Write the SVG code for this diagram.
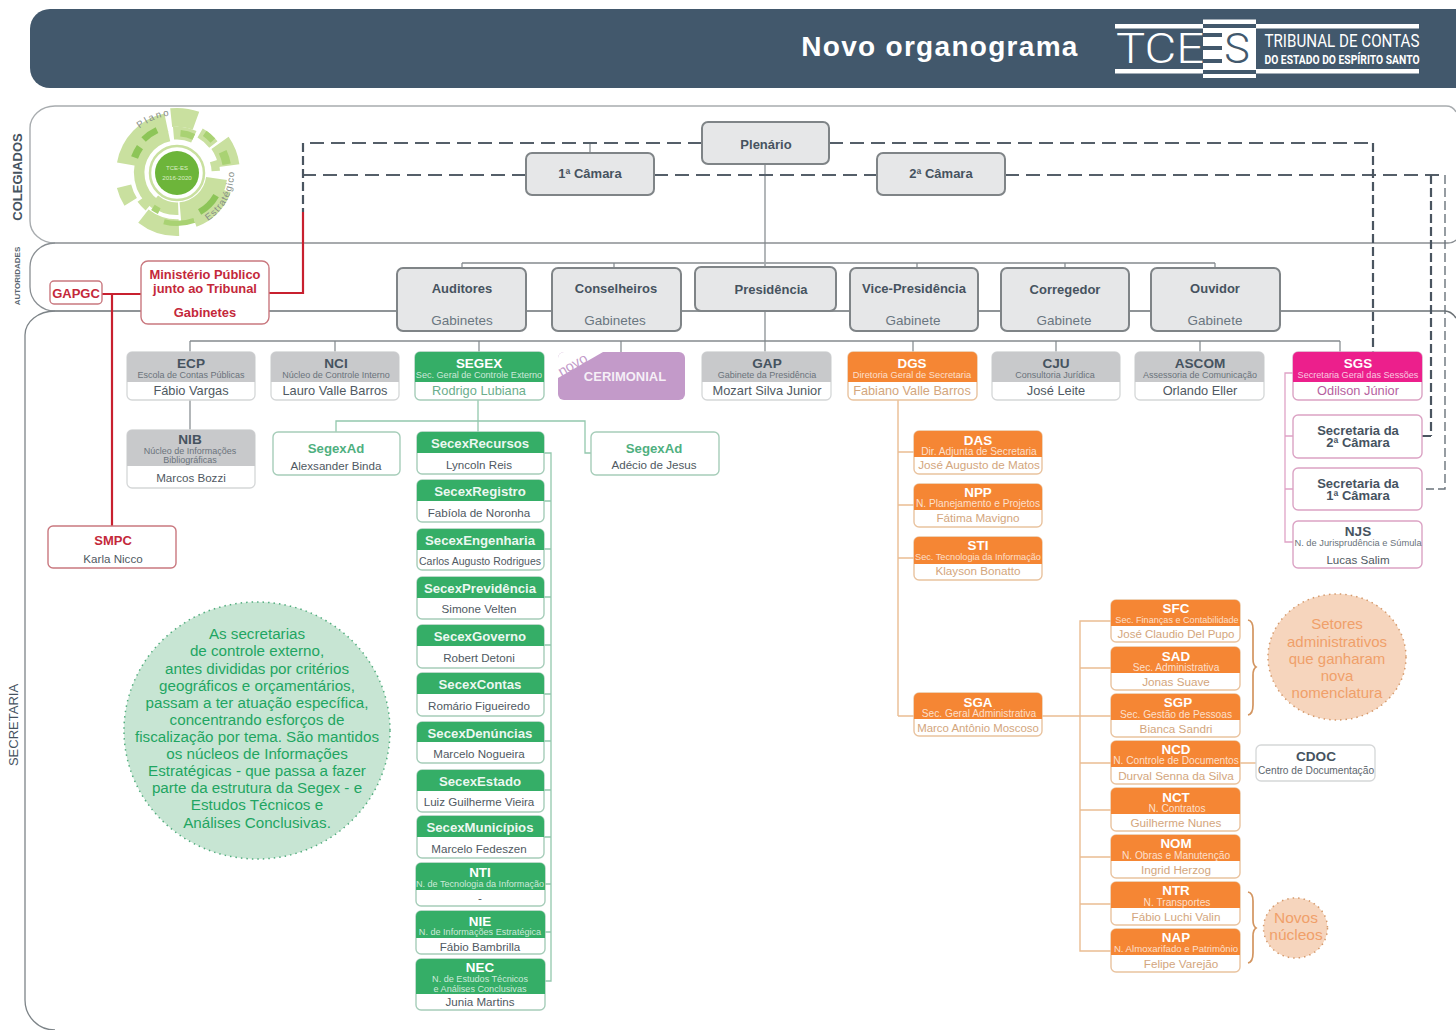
<svg xmlns="http://www.w3.org/2000/svg" width="1456" height="1030" viewBox="0 0 1456 1030">
<style>
text{font-family:"Liberation Sans",Arial,sans-serif;text-anchor:middle}
.box{fill:#e6e7e8;stroke:#7f8487;stroke-width:2}
.t1{font-size:13px;font-weight:700;fill:#46535f}
.t2{font-size:13.5px;fill:#6a7680}
.grayh{fill:#c8c9cb}.grn{fill:#35ae67}.org{fill:#f58634}.pnk{fill:#ec1f8c}
.card{fill:#fff;stroke:#d5d7d8;stroke-width:1.3}
.cg{fill:#fff;stroke:#a6cdb9;stroke-width:1.4}
.co{fill:#fff;stroke:#e9c39f;stroke-width:1.4}
.cp{fill:#fff;stroke:#dba3c4;stroke-width:1.4}
.cr{fill:#fff;stroke:#c9787f;stroke-width:1.4}
.h{font-size:13.4px;font-weight:700;fill:#fff}
.hs{font-size:13.2px;font-weight:700;fill:#fff;fill-opacity:.92}
.hg{font-size:13.6px;font-weight:700;fill:#46535f}
.s{font-size:9.1px;fill:#fff;fill-opacity:.75}
.s2{font-size:10.2px;fill:#fff;fill-opacity:.75}
.sg{font-size:9px;fill:#6a737b}
.sg2{font-size:10.2px;fill:#5d666e}
.n{font-size:11.6px;fill:#4f5962}
.nb{font-size:12.8px;fill:#4f5962}
.no{font-size:11.7px;fill:#d3a67d}
.ng{font-size:12.8px;fill:#6bae8c}
.np{font-size:12.8px;fill:#b65fa0}
.ln{fill:none;stroke:#80878b;stroke-width:1.2}
.ln2{fill:none;stroke:#a3a7aa;stroke-width:2}
.lg{fill:none;stroke:#93c8ad;stroke-width:1.3}
.lo{fill:none;stroke:#eabd92;stroke-width:1.4}
.lp{fill:none;stroke:#dfa3c6;stroke-width:1.3}
.lr{fill:none;stroke:#c8202f;stroke-width:2.2}
.ld{fill:none;stroke:#555f69;stroke-width:2;stroke-dasharray:14 7}
.ldv{fill:none;stroke:#4a5560;stroke-width:2.2;stroke-dasharray:9 4}
.ldt{fill:none;stroke:#6a737b;stroke-width:1.4;stroke-dasharray:9 4}
.red{font-weight:700;fill:#c4283a}
.big{fill:#f0a06a}
.a{fill:none;stroke:#c9e09f}
.b{fill:none;stroke:#a9d273}
.c{fill:none;stroke:#8dc558}
</style>

<g id="header">
<path d="M1456 9H50a20 20 0 0 0-20 20V68a20 20 0 0 0 20 20H1456Z" fill="#42586c"/>
<text x="940" y="56" font-size="28" font-weight="700" fill="#fff" letter-spacing="1.3">Novo organograma</text>
<rect x="1115" y="24" width="88" height="4.5" fill="#fff"/><rect x="1115" y="69" width="88" height="4.5" fill="#fff"/>
<rect x="1256" y="24" width="163" height="4.5" fill="#fff"/><rect x="1256" y="69" width="163" height="4.5" fill="#fff"/>
<rect x="1203" y="19.500" width="53" height="58.500" fill="#fff"/>
<g fill="#42586c"><rect x="1203" y="24" width="53" height="4"/><rect x="1203" y="70" width="53" height="4"/><rect x="1203" y="33" width="19" height="4"/><rect x="1203" y="46" width="19" height="4"/><rect x="1203" y="59" width="19" height="4"/></g>
<text x="1160" y="63" style="font-family:Roboto,'Liberation Sans',sans-serif" font-size="42" font-weight="300" fill="#fff" textLength="88" lengthAdjust="spacingAndGlyphs">TCE</text>
<text x="1237" y="63" style="font-family:Roboto,'Liberation Sans',sans-serif" font-size="43" font-weight="300" fill="#42586c">S</text>
<text x="1342" y="47" style="font-family:Roboto,'Liberation Sans',sans-serif" font-size="19" fill="#fff" textLength="155" lengthAdjust="spacingAndGlyphs">TRIBUNAL DE CONTAS</text>
<text x="1342" y="64" style="font-family:Roboto,'Liberation Sans',sans-serif" font-size="12" font-weight="700" fill="#fff" textLength="155" lengthAdjust="spacingAndGlyphs">DO ESTADO DO ESPÍRITO SANTO</text>
</g>

<g id="bands">
<path fill="none" stroke="#a8acaf" stroke-width="1.4" d="M1456 112q-3-6-10-6H55a25 22 0 0 0-25 22V221a25 22 0 0 0 25 22"/>
<path fill="none" stroke="#8a8f93" stroke-width="1.3" d="M55 243H1448q5 0 8-3M55 243a25 24 0 0 0-25 24V287a25 24 0 0 0 25 24"/>
<path fill="none" stroke="#6b7175" stroke-width="1.6" d="M55 311H1445q6 0 11 7"/>
<path fill="none" stroke="#7d8488" stroke-width="1.3" d="M55 311a30 24 0 0 0-30 24V1000a30 30 0 0 0 30 30"/>
<text transform="translate(22 177) rotate(-90)" font-size="13" font-weight="700" fill="#46535f">COLEGIADOS</text>
<text transform="translate(20 276) rotate(-90)" font-size="8" font-weight="700" fill="#5a6670">AUTORIDADES</text>
<text transform="translate(18 725) rotate(-90)" font-size="13" fill="#46535f">SECRETARIA</text>
</g>

<g id="plano-estrategico">
<g transform="translate(177 173) scale(1.05) translate(-177 -173)">
<circle class="a" cx="177" cy="173" r="49" stroke-width="18" pathLength="360" stroke-dasharray="68 360" transform="rotate(190 177 173)"/>
<circle class="a" cx="177" cy="173" r="36" stroke-width="10" pathLength="360" stroke-dasharray="133 360" transform="rotate(125 177 173)"/>
<circle class="a" cx="177" cy="173" r="53" stroke-width="18" pathLength="360" stroke-dasharray="26 360" transform="rotate(264 177 173)"/>
<circle class="a" cx="177" cy="173" r="38" stroke-width="12" pathLength="360" stroke-dasharray="30 360" transform="rotate(265 177 173)"/>
<circle class="a" cx="177" cy="173" r="44" stroke-width="10" pathLength="360" stroke-dasharray="22 360" transform="rotate(300 177 173)"/>
<circle class="a" cx="177" cy="173" r="50" stroke-width="20" pathLength="360" stroke-dasharray="27 360" transform="rotate(325 177 173)"/>
<circle class="a" cx="177" cy="173" r="37" stroke-width="8" pathLength="360" stroke-dasharray="15 360" transform="rotate(342 177 173)"/>
<circle class="a" cx="177" cy="173" r="38" stroke-width="20" pathLength="360" stroke-dasharray="77 360" transform="rotate(8 177 173)"/>
<circle class="a" cx="177" cy="173" r="50" stroke-width="9" pathLength="360" stroke-dasharray="50 360" transform="rotate(20 177 173)"/>
<circle class="a" cx="177" cy="173" r="52" stroke-width="16" pathLength="360" stroke-dasharray="40 360" transform="rotate(88 177 173)"/>
<circle class="a" cx="177" cy="173" r="34" stroke-width="12" pathLength="360" stroke-dasharray="42 360" transform="rotate(88 177 173)"/>
<circle class="a" cx="177" cy="173" r="52" stroke-width="14" pathLength="360" stroke-dasharray="18 360" transform="rotate(148 177 173)"/>
<circle class="a" cx="177" cy="173" r="42" stroke-width="9" pathLength="360" stroke-dasharray="14 360" transform="rotate(130 177 173)"/>
<circle class="c" cx="177" cy="173" r="43" stroke-width="7" pathLength="360" stroke-dasharray="15 360" transform="rotate(200 177 173)"/>
<circle class="c" cx="177" cy="173" r="45" stroke-width="6" pathLength="360" stroke-dasharray="20 360" transform="rotate(225 177 173)"/>
<circle class="b" cx="177" cy="173" r="38" stroke-width="6" pathLength="360" stroke-dasharray="20 360" transform="rotate(275 177 173)"/>
<circle class="b" cx="177" cy="173" r="46" stroke-width="6" pathLength="360" stroke-dasharray="13 360" transform="rotate(305 177 173)"/>
<circle class="b" cx="177" cy="173" r="48" stroke-width="8" pathLength="360" stroke-dasharray="15 360" transform="rotate(335 177 173)"/>
<circle class="c" cx="177" cy="173" r="43" stroke-width="6" pathLength="360" stroke-dasharray="30 360" transform="rotate(30 177 173)"/>
<circle class="b" cx="177" cy="173" r="48" stroke-width="5" pathLength="360" stroke-dasharray="35 360" transform="rotate(70 177 173)"/>
<circle class="b" cx="177" cy="173" r="40" stroke-width="6" pathLength="360" stroke-dasharray="10 360" transform="rotate(115 177 173)"/>
</g>
<circle cx="177" cy="173" r="27.500" fill="#fff"/>
<circle cx="177" cy="173" r="27" fill="none" stroke="#c9e09f" stroke-width="2.500"/>
<circle cx="177" cy="173" r="22" fill="#6db53a"/>
<text x="177" y="170" font-size="6" fill="#dcedc6">TCE-ES</text>
<text x="177" y="180" font-size="6.200" fill="#dcedc6">2016-2020</text>
<path id="pp" d="M139.700 128.600A58 58 0 0 1 182 115.200" fill="none"/>
<text font-size="9.500" fill="#858c85" letter-spacing="2" style="text-anchor:start"><textPath href="#pp">Plano</textPath></text>
<path id="pe" d="M208 220.800A57 57 0 0 0 233.400 165" fill="none"/>
<text font-size="9.500" fill="#858c85" letter-spacing="1" style="text-anchor:start"><textPath href="#pe">Estratégico</textPath></text>
</g>

<g id="connectors">
<path class="ln" d="M765 164V267M590 143V153M190 400V430"/>
<path class="ln2" d="M462 263H1215M190 341H1340"/>
<path class="ln" d="M462 263V268M614 263V268M917 263V268M1065 263V268M1215 263V268M190 341V352M335 341V352M479 341V352M621 341V352M765 311V352M913 341V352M1056 341V352M1200 341V352M1340 341V352"/>
<path class="ld" d="M702 143H303M526 175H303M829 143H1373M654 175H877M1005 175H1445"/>
<path class="ldv" d="M303 143V212M1373 143V352M1431 175V436"/>
<path class="ldt" d="M1445 175V489H1426"/>
<path fill="none" stroke="#4a5560" stroke-width="2" d="M1422 436H1431"/>
<path class="lr" d="M269 293H303V212M102 294H141M112 294V526"/>
<path class="lg" d="M478 400V432M336 432V421H585V453H591"/>
<path class="lg" d="M544 453H551V981H544M544 501H551M544 549H551M544 597H551M544 645H551M544 694H551M544 741H551M544 790H551M544 837H551M544 884H551M544 932H551"/>
<path class="lo" d="M898 400V716M898 452H914M898 505H914M898 558H914M898 716H914"/>
<path class="lo" d="M1042 716H1111M1111 621H1080V951H1111M1080 668H1111M1080 763H1111M1080 810H1111M1080 857H1111M1080 904H1111M1240 763H1256"/>
<path class="lp" d="M1293 373H1285V542H1293M1285 436H1293M1285 489H1293"/>
<path d="M1248 620q5 1 5 9v30q0 6 3 8q-3 2-3 8v30q0 9-5 10M1248 892q5 1 5 9v19q0 6 3 8q-3 2-3 8v17q0 9-5 10" fill="none" stroke="#d39560" stroke-width="1.700"/>
</g>

<g id="plenario"><rect class="box" x="702" y="122" width="127" height="42" rx="6"/><text class="t1" x="766" y="149">Plenário</text></g>
<g id="camara1"><rect class="box" x="526" y="153" width="128" height="42" rx="6"/><text class="t1" x="590" y="178">1ª Câmara</text></g>
<g id="camara2"><rect class="box" x="877" y="153" width="128" height="42" rx="6"/><text class="t1" x="941" y="178">2ª Câmara</text></g>
<g id="auditores"><rect class="box" x="397" y="268" width="129" height="63" rx="6"/><text class="t1" x="462" y="293">Auditores</text><text class="t2" x="462" y="325">Gabinetes</text></g>
<g id="conselheiros"><rect class="box" x="552" y="268" width="129" height="63" rx="6"/><text class="t1" x="616" y="293">Conselheiros</text><text class="t2" x="615" y="325">Gabinetes</text></g>
<g id="presidencia"><rect class="box" x="695" y="267" width="141" height="44" rx="6"/><text class="t1" x="771" y="294">Presidência</text></g>
<g id="vice"><rect class="box" x="850" y="268" width="128" height="63" rx="6"/><text class="t1" x="914" y="293">Vice-Presidência</text><text class="t2" x="913" y="325">Gabinete</text></g>
<g id="corregedor"><rect class="box" x="1001" y="268" width="128" height="63" rx="6"/><text class="t1" x="1065" y="294">Corregedor</text><text class="t2" x="1064" y="325">Gabinete</text></g>
<g id="ouvidor"><rect class="box" x="1151" y="268" width="129" height="63" rx="6"/><text class="t1" x="1215" y="293">Ouvidor</text><text class="t2" x="1215" y="325">Gabinete</text></g>

<g id="mp"><rect class="cr" x="141" y="261" width="128" height="63" rx="7"/><text class="red" x="205" y="279" font-size="12.900">Ministério Público</text><text class="red" x="205" y="293" font-size="12.900">junto ao Tribunal</text><text class="red" x="205" y="317" font-size="12.900">Gabinetes</text></g>
<g id="gapgc"><rect class="cr" x="50" y="281" width="52" height="23" rx="4"/><text class="red" x="76" y="298" font-size="13">GAPGC</text></g>
<g id="smpc"><rect class="cr" x="48" y="526" width="128" height="42" rx="5"/><text class="red" x="113" y="545" font-size="13">SMPC</text><text class="n" x="113" y="563">Karla Nicco</text></g>

<g id="ecp"><rect class="card" x="127" y="352" width="128" height="48" rx="5"/><path class="grayh" d="M127 382V357a5 5 0 0 1 5-5H250a5 5 0 0 1 5 5V382Z"/><text class="hg" x="191" y="368">ECP</text><text class="sg" x="191" y="378">Escola de Contas Públicas</text><text class="nb" x="191" y="395">Fábio Vargas</text></g>
<g id="nci"><rect class="card" x="271" y="352" width="128" height="48" rx="5"/><path class="grayh" d="M271 382V357a5 5 0 0 1 5-5H394a5 5 0 0 1 5 5V382Z"/><text class="hg" x="336" y="368">NCI</text><text class="sg" x="336" y="378">Núcleo de Controle Interno</text><text class="nb" x="335" y="395">Lauro Valle Barros</text></g>
<g id="nib"><rect class="card" x="127" y="430" width="128" height="58" rx="5"/><path class="grayh" d="M127 466V435a5 5 0 0 1 5-5H250a5 5 0 0 1 5 5V466Z"/><text class="hg" x="190" y="444">NIB</text><text class="sg" x="190" y="454">Núcleo de Informações</text><text class="sg" x="190" y="463">Bibliográficas</text><text class="n" x="191" y="482">Marcos Bozzi</text></g>
<g id="gap"><rect class="card" x="702" y="352" width="129" height="48" rx="5"/><path class="grayh" d="M702 382V357a5 5 0 0 1 5-5H826a5 5 0 0 1 5 5V382Z"/><text class="hg" x="767" y="368">GAP</text><text class="sg" x="767" y="378">Gabinete da Presidência</text><text class="nb" x="767" y="395">Mozart Silva Junior</text></g>
<g id="cju"><rect class="card" x="992" y="352" width="128" height="48" rx="5"/><path class="grayh" d="M992 382V357a5 5 0 0 1 5-5H1115a5 5 0 0 1 5 5V382Z"/><text class="hg" x="1056" y="368">CJU</text><text class="sg" x="1055" y="378">Consultoria Jurídica</text><text class="nb" x="1056" y="395">José Leite</text></g>
<g id="ascom"><rect class="card" x="1135" y="352" width="129" height="48" rx="5"/><path class="grayh" d="M1135 382V357a5 5 0 0 1 5-5H1259a5 5 0 0 1 5 5V382Z"/><text class="hg" x="1200" y="368">ASCOM</text><text class="sg" x="1200" y="378">Assessoria de Comunicação</text><text class="nb" x="1200" y="395">Orlando Eller</text></g>

<g id="cerimonial"><rect x="558" y="352" width="127" height="48" rx="6" fill="#c39ac9"/><path d="M558 378V358a6 6 0 0 1 6-6H603Z" fill="#fff"/><text transform="translate(575 369) rotate(-30)" font-size="14.500" fill="#c39ac9">novo</text><text x="625" y="381" font-size="13" font-weight="700" fill="#fff" fill-opacity=".85">CERIMONIAL</text></g>

<g id="segex"><rect class="cg" x="415" y="352" width="129" height="48" rx="5"/><path class="grn" d="M415 382V357a5 5 0 0 1 5-5H539a5 5 0 0 1 5 5V382Z"/><text class="h" x="479" y="368">SEGEX</text><text class="s" x="479" y="378">Sec. Geral de Controle Externo</text><text class="ng" x="479" y="395">Rodrigo Lubiana</text></g>
<g id="segexad1"><rect class="cg" x="273" y="432" width="127" height="43" rx="5"/><text x="336" y="453" font-size="13.200" font-weight="700" fill="#4fb07f">SegexAd</text><text class="n" x="336" y="470">Alexsander Binda</text></g>
<g id="segexad2"><rect class="cg" x="591" y="432" width="128" height="43" rx="5"/><text x="654" y="453" font-size="13.200" font-weight="700" fill="#4fb07f">SegexAd</text><text class="n" x="654" y="469">Adécio de Jesus</text></g>

<g id="secexrecursos"><rect class="cg" x="417" y="432" width="127" height="42" rx="5"/><path class="grn" d="M417 453V437a5 5 0 0 1 5-5H539a5 5 0 0 1 5 5V453Z"/><text class="hs" x="480" y="448">SecexRecursos</text><text class="n" x="479" y="469">Lyncoln Reis</text></g>
<g id="secexregistro"><rect class="cg" x="417" y="480" width="127" height="42" rx="5"/><path class="grn" d="M417 501V485a5 5 0 0 1 5-5H539a5 5 0 0 1 5 5V501Z"/><text class="hs" x="480" y="496">SecexRegistro</text><text class="n" x="479" y="517">Fabíola de Noronha</text></g>
<g id="secexengenharia"><rect class="cg" x="417" y="529" width="127" height="41" rx="5"/><path class="grn" d="M417 550V534a5 5 0 0 1 5-5H539a5 5 0 0 1 5 5V550Z"/><text class="hs" x="480" y="545">SecexEngenharia</text><text x="480" y="565" font-size="10.500" fill="#4f5962">Carlos Augusto Rodrigues</text></g>
<g id="secexprevidencia"><rect class="cg" x="417" y="577" width="127" height="42" rx="5"/><path class="grn" d="M417 598V582a5 5 0 0 1 5-5H539a5 5 0 0 1 5 5V598Z"/><text class="hs" x="480" y="593">SecexPrevidência</text><text class="n" x="479" y="613">Simone Velten</text></g>
<g id="secexgoverno"><rect class="cg" x="417" y="625" width="127" height="43" rx="5"/><path class="grn" d="M417 646V630a5 5 0 0 1 5-5H539a5 5 0 0 1 5 5V646Z"/><text class="hs" x="480" y="641">SecexGoverno</text><text class="n" x="479" y="662">Robert Detoni</text></g>
<g id="secexcontas"><rect class="cg" x="417" y="673" width="127" height="43" rx="5"/><path class="grn" d="M417 694V678a5 5 0 0 1 5-5H539a5 5 0 0 1 5 5V694Z"/><text class="hs" x="480" y="689">SecexContas</text><text class="n" x="479" y="710">Romário Figueiredo</text></g>
<g id="secexdenuncias"><rect class="cg" x="417" y="722" width="127" height="41" rx="5"/><path class="grn" d="M417 742V727a5 5 0 0 1 5-5H539a5 5 0 0 1 5 5V742Z"/><text class="hs" x="480" y="738">SecexDenúncias</text><text class="n" x="479" y="758">Marcelo Nogueira</text></g>
<g id="secexestado"><rect class="cg" x="417" y="770" width="127" height="42" rx="5"/><path class="grn" d="M417 791V775a5 5 0 0 1 5-5H539a5 5 0 0 1 5 5V791Z"/><text class="hs" x="480" y="786">SecexEstado</text><text class="n" x="479" y="806">Luiz Guilherme Vieira</text></g>
<g id="secexmunicipios"><rect class="cg" x="417" y="816" width="127" height="42" rx="5"/><path class="grn" d="M417 837V821a5 5 0 0 1 5-5H539a5 5 0 0 1 5 5V837Z"/><text class="hs" x="480" y="832">SecexMunicípios</text><text class="n" x="479" y="853">Marcelo Fedeszen</text></g>
<g id="nti"><rect class="cg" x="416" y="863" width="129" height="43" rx="5"/><path class="grn" d="M416 890V868a5 5 0 0 1 5-5H540a5 5 0 0 1 5 5V890Z"/><text class="h" x="480" y="877">NTI</text><text class="s" x="480" y="887">N. de Tecnologia da Informação</text><text class="n" x="480" y="902">-</text></g>
<g id="nie"><rect class="cg" x="416" y="911" width="129" height="43" rx="5"/><path class="grn" d="M416 938V916a5 5 0 0 1 5-5H540a5 5 0 0 1 5 5V938Z"/><text class="h" x="480" y="926">NIE</text><text class="s" x="480" y="935">N. de Informações Estratégica</text><text class="n" x="480" y="951">Fábio Bambrilla</text></g>
<g id="nec"><rect class="cg" x="416" y="959" width="129" height="51" rx="5"/><path class="grn" d="M416 994V964a5 5 0 0 1 5-5H540a5 5 0 0 1 5 5V994Z"/><text class="h" x="480" y="972">NEC</text><text class="s" x="480" y="982">N. de Estudos Técnicos</text><text class="s" x="480" y="992">e Análises Conclusivas</text><text class="n" x="480" y="1006">Junia Martins</text></g>

<g id="dgs"><rect class="co" x="848" y="352" width="129" height="48" rx="5"/><path class="org" d="M848 382V357a5 5 0 0 1 5-5H972a5 5 0 0 1 5 5V382Z"/><text class="h" x="912" y="368">DGS</text><text class="s" x="912" y="378" style="font-size:9.300px">Diretoria Geral de Secretaria</text><text class="no" x="912" y="395" style="font-size:12.700px">Fabiano Valle Barros</text></g>
<g id="das"><rect class="co" x="914" y="431" width="128" height="43" rx="5"/><path class="org" d="M914 457V436a5 5 0 0 1 5-5H1037a5 5 0 0 1 5 5V457Z"/><text class="h" x="978" y="445">DAS</text><text class="s2" x="979" y="455">Dir. Adjunta de Secretaria</text><text class="no" x="979" y="469">José Augusto de Matos</text></g>
<g id="npp"><rect class="co" x="914" y="484" width="128" height="43" rx="5"/><path class="org" d="M914 510V489a5 5 0 0 1 5-5H1037a5 5 0 0 1 5 5V510Z"/><text class="h" x="978" y="497">NPP</text><text class="s2" x="978" y="507">N. Planejamento e Projetos</text><text class="no" x="978" y="522">Fátima Mavigno</text></g>
<g id="sti"><rect class="co" x="914" y="537" width="128" height="43" rx="5"/><path class="org" d="M914 564V542a5 5 0 0 1 5-5H1037a5 5 0 0 1 5 5V564Z"/><text class="h" x="978" y="550">STI</text><text class="s" x="978" y="560" style="font-size:9.200px">Sec. Tecnologia da Informação</text><text class="no" x="978" y="575">Klayson Bonatto</text></g>
<g id="sga"><rect class="co" x="914" y="693" width="128" height="43" rx="5"/><path class="org" d="M914 719V698a5 5 0 0 1 5-5H1037a5 5 0 0 1 5 5V719Z"/><text class="h" x="978" y="707">SGA</text><text class="s2" x="979" y="717">Sec. Geral Administrativa</text><text class="no" x="978" y="732" style="font-size:11.400px">Marco Antônio Moscoso</text></g>

<g id="sfc"><rect class="co" x="1111" y="600" width="129" height="42" rx="5"/><path class="org" d="M1111 626V605a5 5 0 0 1 5-5H1235a5 5 0 0 1 5 5V626Z"/><text class="h" x="1176" y="613">SFC</text><text class="s" x="1177" y="623">Sec. Finanças e Contabilidade</text><text class="no" x="1176" y="638" style="font-size:11.500px">José Claudio Del Pupo</text></g>
<g id="sad"><rect class="co" x="1111" y="647" width="129" height="43" rx="5"/><path class="org" d="M1111 673V652a5 5 0 0 1 5-5H1235a5 5 0 0 1 5 5V673Z"/><text class="h" x="1176" y="661">SAD</text><text class="s2" x="1176" y="671">Sec. Administrativa</text><text class="no" x="1176" y="686">Jonas Suave</text></g>
<g id="sgp"><rect class="co" x="1111" y="694" width="129" height="43" rx="5"/><path class="org" d="M1111 720V699a5 5 0 0 1 5-5H1235a5 5 0 0 1 5 5V720Z"/><text class="h" x="1178" y="707">SGP</text><text class="s2" x="1176" y="718">Sec. Gestão de Pessoas</text><text class="no" x="1176" y="733">Bianca Sandri</text></g>
<g id="ncd"><rect class="co" x="1111" y="741" width="129" height="43" rx="5"/><path class="org" d="M1111 767V746a5 5 0 0 1 5-5H1235a5 5 0 0 1 5 5V767Z"/><text class="h" x="1176" y="754">NCD</text><text class="s2" x="1176" y="764">N. Controle de Documentos</text><text class="no" x="1176" y="780">Durval Senna da Silva</text></g>
<g id="nct"><rect class="co" x="1111" y="788" width="129" height="43" rx="5"/><path class="org" d="M1111 814V793a5 5 0 0 1 5-5H1235a5 5 0 0 1 5 5V814Z"/><text class="h" x="1176" y="802">NCT</text><text class="s2" x="1177" y="812">N. Contratos</text><text class="no" x="1176" y="827">Guilherme Nunes</text></g>
<g id="nom"><rect class="co" x="1111" y="835" width="129" height="43" rx="5"/><path class="org" d="M1111 861V840a5 5 0 0 1 5-5H1235a5 5 0 0 1 5 5V861Z"/><text class="h" x="1176" y="848">NOM</text><text class="s2" x="1176" y="859">N. Obras e Manutenção</text><text class="no" x="1176" y="874">Ingrid Herzog</text></g>
<g id="ntr"><rect class="co" x="1111" y="882" width="129" height="43" rx="5"/><path class="org" d="M1111 908V887a5 5 0 0 1 5-5H1235a5 5 0 0 1 5 5V908Z"/><text class="h" x="1176" y="895">NTR</text><text class="s2" x="1177" y="906">N. Transportes</text><text class="no" x="1176" y="921">Fábio Luchi Valin</text></g>
<g id="nap"><rect class="co" x="1111" y="929" width="129" height="43" rx="5"/><path class="org" d="M1111 955V934a5 5 0 0 1 5-5H1235a5 5 0 0 1 5 5V955Z"/><text class="h" x="1176" y="942">NAP</text><text class="s" x="1176" y="952" style="font-size:9.600px">N. Almoxarifado e Patrimônio</text><text class="no" x="1181" y="968">Felipe Varejão</text></g>
<g id="cdoc"><rect class="card" x="1256" y="745" width="119" height="36" rx="5"/><text class="hg" x="1316" y="761">CDOC</text><text class="sg2" x="1316" y="774">Centro de Documentação</text></g>

<g id="sgs"><rect class="cp" x="1293" y="352" width="129" height="48" rx="5"/><path class="pnk" d="M1293 382V357a5 5 0 0 1 5-5H1417a5 5 0 0 1 5 5V382Z"/><text class="h" x="1358" y="368">SGS</text><text class="s" x="1358" y="378">Secretaria Geral das Sessões</text><text class="np" x="1358" y="395">Odilson Júnior</text></g>
<g id="sec2"><rect class="cp" x="1293" y="415" width="129" height="43" rx="5"/><text class="t1"><tspan x="1358" y="435">Secretaria da</tspan><tspan x="1358" y="447">2ª Câmara</tspan></text></g>
<g id="sec1"><rect class="cp" x="1293" y="468" width="129" height="42" rx="5"/><text class="t1"><tspan x="1358" y="488">Secretaria da</tspan><tspan x="1358" y="500">1ª Câmara</tspan></text></g>
<g id="njs"><rect class="cp" x="1293" y="521" width="129" height="47" rx="5"/><text class="hg" x="1358" y="536">NJS</text><text class="sg" x="1358" y="546" style="font-size:9.300px">N. de Jurisprudência e Súmula</text><text class="n" x="1358" y="564">Lucas Salim</text></g>

<g id="nota-secex"><ellipse cx="257" cy="730.500" rx="133" ry="128.500" fill="#c7e5d3" stroke="#52ad7e" stroke-width="1.500" stroke-dasharray="1.500 4"/>
<g font-size="15.200" fill="#1fa562"><text x="257" y="639">As secretarias</text><text x="257" y="656">de controle externo,</text><text x="257" y="674">antes divididas por critérios</text><text x="257" y="691">geográficos e orçamentários,</text><text x="257" y="708">passam a ter atuação específica,</text><text x="257" y="725">concentrando esforços de</text><text x="257" y="742">fiscalização por tema. São mantidos</text><text x="257" y="759">os núcleos de Informações</text><text x="257" y="776">Estratégicas - que passa a fazer</text><text x="257" y="793">parte da estrutura da Segex - e</text><text x="257" y="810">Estudos Técnicos e</text><text x="257" y="828">Análises Conclusivas.</text></g></g>
<g id="nota-setores"><ellipse cx="1337" cy="657" rx="69" ry="63" fill="#f6d5bd" stroke="#d59a6c" stroke-width="1.500" stroke-dasharray="1.500 4"/><g font-size="15"><text class="big" x="1337" y="629">Setores</text><text class="big" x="1337" y="647">administrativos</text><text class="big" x="1337" y="664">que ganharam</text><text class="big" x="1337" y="681">nova</text><text class="big" x="1337" y="698">nomenclatura</text></g></g>
<g id="nota-nucleos"><ellipse cx="1295.500" cy="928" rx="32" ry="30" fill="#f6d5bd" stroke="#d59a6c" stroke-width="1.500" stroke-dasharray="1.500 4"/><g font-size="15.500"><text class="big" x="1296" y="923">Novos</text><text class="big" x="1296" y="940">núcleos</text></g></g>
</svg>
